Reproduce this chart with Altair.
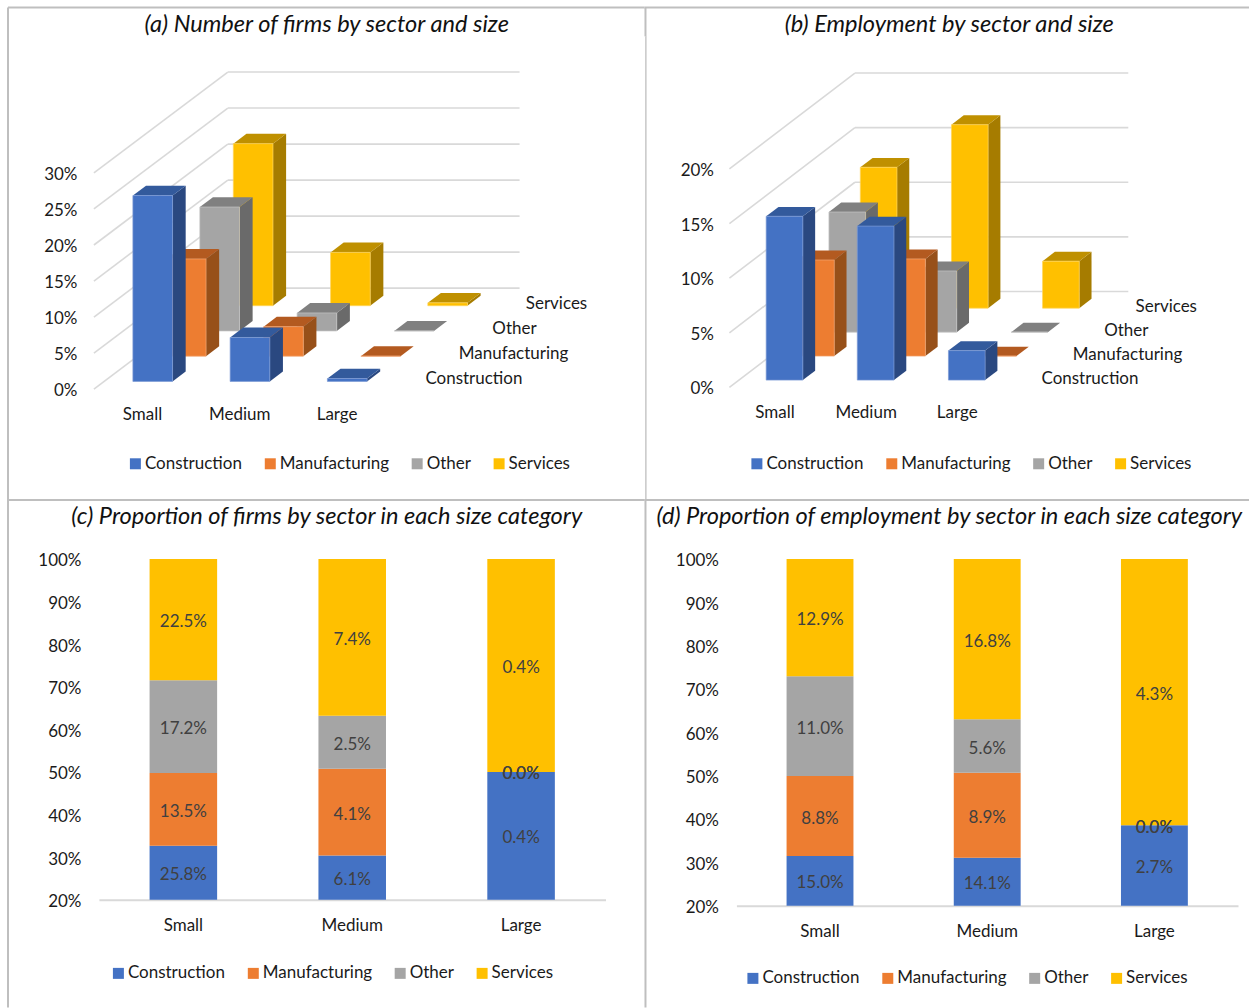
import altair as alt
import pandas as pd

# Sector and size categories
SERIES = ["Construction", "Manufacturing", "Other", "Services"]
SIZES = ["Small", "Medium", "Large"]

# Shares of firms and of employment, in percent, one list per sector (Small, Medium, Large)
FIRMS = {
    "Construction": [25.8, 6.1, 0.4],
    "Manufacturing": [13.5, 4.1, 0.0],
    "Other": [17.2, 2.5, 0.0],
    "Services": [22.5, 7.4, 0.4],
}
EMPLOYMENT = {
    "Construction": [15.0, 14.1, 2.7],
    "Manufacturing": [8.8, 8.9, 0.0],
    "Other": [11.0, 5.6, 0.0],
    "Services": [12.9, 16.8, 4.3],
}

FRONT = ["#4472c4", "#ed7d31", "#a5a5a5", "#ffc000"]
EDGE = ["#7d9bd6", "#f4a673", "#c4c4c4", "#ffd65c"]
TOP = ["#335a9c", "#b35a20", "#808080", "#bf9000"]
SIDE = ["#2a4880", "#975019", "#6a6a6a", "#a67c00"]

FONT = "Lato"
FS = 17
TEXT = "#1a1a1a"
LABEL = "#404040"
GRID = "#d9d9d9"
BORDER = "#bfbfbf"

# Cell layout on the page: columns split at x=645, rows at y=499
COL_W = [645, 605]
ROW_H = [499, 509]


def single():
    return pd.DataFrame({"k": [1]})


def legend(x, y, pad):
    return alt.Legend(
        orient="none", legendX=x, legendY=y, direction="horizontal", columns=4,
        title=None, symbolType="square", symbolSize=121, symbolStrokeWidth=0,
        labelFont=FONT, labelFontSize=FS, labelColor=TEXT, labelOffset=1,
        columnPadding=pad,
    )


def title_layer(text, x, y):
    return alt.Chart(single()).mark_text(
        text=text, font=FONT, fontStyle="italic", fontSize=23.6, color="#111111",
        align="center", baseline="middle",
    ).encode(x=alt.value(x), y=alt.value(y))


def rule_layer(x0, x1, y0, y1, w=2):
    return alt.Chart(single()).mark_rule(color=BORDER, strokeWidth=w).encode(
        x=alt.value(x0), x2=alt.value(x1), y=alt.value(y0), y2=alt.value(y1)
    )


def frame_layers(col, row):
    """Cell separators; the outer edge runs along the left and top only."""
    w, h = COL_W[col], ROW_H[row]
    out = []
    if row == 0:
        out.append(rule_layer(8 if col == 0 else 0, w, 7, 7))
    else:
        out.append(rule_layer(8 if col == 0 else 0, w, 1, 1))
    if col == 0:
        out.append(rule_layer(8, 8, 7 if row == 0 else 0, h))
    else:
        if row == 0:
            out.append(rule_layer(1, 1, 7, 36))
            out.append(rule_layer(1.4, 1.4, 36, h, 1.3))
        else:
            out.append(rule_layer(1, 1, 0, h))
    return out


def title_x(col):
    return 327 if col == 0 else 950 - COL_W[0]


def bar3d_panel(values, col, row, title, ox, y0_px, px_per_pct, pitch, bar_w,
                row_dx, row_dy, ticks, label_right, size_dy, depth_dx, depth_dy,
                leg):
    """Oblique 3-D column chart: x in category units, y in percent."""
    off_x, off_y = sum(COL_W[:col]), sum(ROW_H[:row])
    dxu = row_dx / pitch          # category units per depth row
    dyu = row_dy / px_per_pct     # percent per depth row
    depth_frac = 0.392
    half_w = bar_w / pitch / 2
    top_val = ticks[-1]

    xs = alt.Scale(domain=[0, 3], range=[ox - off_x, ox + 3 * pitch - off_x],
                   nice=False, zero=False)
    ys = alt.Scale(domain=[0, top_val],
                   range=[y0_px - off_y, y0_px - px_per_pct * top_val - off_y],
                   nice=False, zero=False)
    X = lambda f: alt.X(f, type="quantitative", scale=xs, axis=None, title=None)
    Y = lambda f: alt.Y(f, type="quantitative", scale=ys, axis=None, title=None, stack=None)

    # Back wall and left wall gridlines
    wall = []
    for t in ticks:
        wall.append({"x0": 0, "x1": 4 * dxu, "y0": t, "y1": t + 4 * dyu})
        wall.append({"x0": 4 * dxu, "x1": 3 + 4 * dxu, "y0": t + 4 * dyu, "y1": t + 4 * dyu})
    grid = alt.Chart(pd.DataFrame(wall)).mark_rule(color=GRID, strokeWidth=1.6).encode(
        x=X("x0"), x2="x1",
        y=alt.Y("y0", type="quantitative", scale=ys, title=None, axis=alt.Axis(
            values=ticks, labelExpr="datum.value + '%'", domain=False, ticks=False,
            grid=False, labelPadding=0, offset=-(label_right - off_x), labelOffset=1.5,
            labelFont=FONT, labelFontSize=FS, labelColor=TEXT, title=None)),
        y2="y1",
    )
    layers = [grid]

    # Columns are painted back to front so nearer rows cover farther ones
    for i in reversed(range(len(SERIES))):
        s = SERIES[i]
        d0 = i + (1 - depth_frac) / 2
        d1 = d0 + depth_frac
        front, side, top = [], [], []
        for c, size in enumerate(SIZES):
            v = values[s][c]
            xl = c + 0.5 - half_w + d0 * dxu
            xr = c + 0.5 + half_w + d0 * dxu
            b0, t0 = d0 * dyu, v + d0 * dyu
            b1, t1 = d1 * dyu, v + d1 * dyu
            shift = (d1 - d0) * dxu
            front.append({"size": size, "series": s, "xl": xl, "xr": xr, "yb": b0, "yt": t0})
            side.append({"size": size, "x": xr, "yb": b0, "yt": t0})
            side.append({"size": size, "x": xr + shift, "yb": b1, "yt": t1})
            top.append({"size": size, "y": t0, "xa": xl, "xb": xr})
            top.append({"size": size, "y": t1, "xa": xl + shift, "xb": xr + shift})
        layers.append(alt.Chart(pd.DataFrame(side)).mark_area(
            orient="vertical", color=SIDE[i]).encode(
            x=X("x"), y=Y("yb"), y2="yt", detail="size:N"))
        layers.append(alt.Chart(pd.DataFrame(top)).mark_area(
            orient="horizontal", color=TOP[i]).encode(
            y=Y("y"), x=X("xa"), x2="xb", detail="size:N"))
        layers.append(alt.Chart(pd.DataFrame(front)).mark_rect(
            stroke=EDGE[i], strokeWidth=0.7).encode(
            x=X("xl"), x2="xr", y=Y("yb"), y2="yt",
            color=alt.Color("series:N", scale=alt.Scale(domain=SERIES, range=FRONT),
                            legend=leg, title=None)))

    # Category names under the floor and sector names along its right edge
    size_df = pd.DataFrame({"name": SIZES, "x": [c + 0.5 for c in range(3)], "y": [0, 0, 0]})
    layers.append(alt.Chart(size_df).mark_text(
        font=FONT, fontSize=FS, color=TEXT, dy=size_dy, baseline="middle").encode(
        x=X("x"), y=Y("y"), text="name:N"))
    series_df = pd.DataFrame({
        "name": SERIES,
        "x": [3 + (i + 0.5) * dxu for i in range(4)],
        "y": [(i + 0.5) * dyu for i in range(4)],
    })
    layers.append(alt.Chart(series_df).mark_text(
        font=FONT, fontSize=FS, color=TEXT, align="left", baseline="middle",
        dx=depth_dx, dy=depth_dy).encode(x=X("x"), y=Y("y"), text="name:N"))

    layers.append(title_layer(title, title_x(col), 25))
    layers.extend(frame_layers(col, row))
    return alt.layer(*layers).resolve_axis(x="independent", y="independent").properties(
        width=COL_W[col], height=ROW_H[row])


def stacked_panel(values, col, row, title, x0, x1, y20, y100, label_right, leg):
    """Stacked columns normalised to 100%, with the value axis starting at 20%."""
    off_x, off_y = sum(COL_W[:col]), sum(ROW_H[:row])
    rows = []
    for i, s in enumerate(SERIES):
        for c, size in enumerate(SIZES):
            rows.append({"series": s, "size": size, "order": i, "value": values[s][c]})
    df = pd.DataFrame(rows)

    xs = alt.Scale(type="band", domain=SIZES, range=[x0 - off_x, x1 - off_x],
                   paddingInner=0.6, paddingOuter=0.3)
    ys = alt.Scale(domain=[0.2, 1.0], range=[y20 - off_y, y100 - off_y],
                   nice=False, zero=False, clamp=True)

    base = alt.Chart(df).transform_stack(
        as_=["v0", "v1"], stack="value", groupby=["size"], offset="normalize",
        sort=[alt.SortField("order", order="ascending")],
    )
    bars = base.mark_bar().encode(
        x=alt.X("size:N", sort=SIZES, scale=xs, title=None, axis=alt.Axis(
            domainColor=GRID, domainWidth=2, ticks=False, grid=False, labelAngle=0,
            labelPadding=18, offset=(y20 - off_y) - ROW_H[row], labelFont=FONT,
            labelFontSize=FS, labelColor=TEXT, title=None)),
        y=alt.Y("v0:Q", scale=ys, title=None, axis=alt.Axis(
            values=[0.2, 0.3, 0.4, 0.5, 0.6, 0.7, 0.8, 0.9, 1.0], format=".0%",
            domain=False, ticks=False, grid=False, labelPadding=0, labelOffset=2,
            offset=-(label_right - off_x), labelFont=FONT, labelFontSize=FS,
            labelColor=TEXT, title=None)),
        y2="v1:Q",
        color=alt.Color("series:N", scale=alt.Scale(domain=SERIES, range=FRONT),
                        legend=leg, title=None),
    )
    labels = base.transform_calculate(
        mid="(max(datum.v0, 0.2) + datum.v1) / 2",
        txt="format(datum.value, '.1f') + '%'",
    ).mark_text(font=FONT, fontSize=FS, color=LABEL, baseline="middle", dy=2.5).encode(
        x=alt.X("size:N", sort=SIZES, scale=xs, axis=None, title=None),
        y=alt.Y("mid:Q", scale=ys, axis=None, title=None),
        text="txt:N",
    )
    layers = [bars, labels, title_layer(title, title_x(col), 517 - off_y)] + frame_layers(col, row)
    return alt.layer(*layers).resolve_axis(x="independent", y="independent").properties(
        width=COL_W[col], height=ROW_H[row])


panel_a = bar3d_panel(
    FIRMS, 0, 0, "(a) Number of firms by sector and size",
    ox=94, y0_px=389, px_per_pct=7.21, pitch=97.33, bar_w=39.7,
    row_dx=33.5, row_dy=25.25, ticks=[0, 5, 10, 15, 20, 25, 30], label_right=77,
    size_dy=26, depth_dx=23, depth_dy=3, leg=legend(127, 455, 19),
)
panel_b = bar3d_panel(
    EMPLOYMENT, 1, 0, "(b) Employment by sector and size",
    ox=730, y0_px=387.3, px_per_pct=10.93, pitch=91.2, bar_w=36.7,
    row_dx=31.4, row_dy=24, ticks=[0, 5, 10, 15, 20], label_right=714,
    size_dy=26, depth_dx=23, depth_dy=3.5, leg=legend(749 - 645, 455, 19),
)
panel_c = stacked_panel(
    FIRMS, 0, 1, "(c) Proportion of firms by sector in each size category",
    x0=99, x1=606, y20=900, y100=559, label_right=81, leg=legend(110, 965 - 499, 19),
)
panel_d = stacked_panel(
    EMPLOYMENT, 1, 1, "(d) Proportion of employment by sector in each size category",
    x0=737, x1=1239, y20=906, y100=559, label_right=719, leg=legend(745 - 645, 970 - 499, 19),
)

chart = alt.concat(
    panel_a, panel_b, panel_c, panel_d, columns=2, spacing=0, bounds="flush",
).resolve_scale(color="independent").properties(
    padding=0, background="white"
).configure_view(stroke=None)

chart.save("out.html", embed_options={"renderer": "svg", "actions": False})
